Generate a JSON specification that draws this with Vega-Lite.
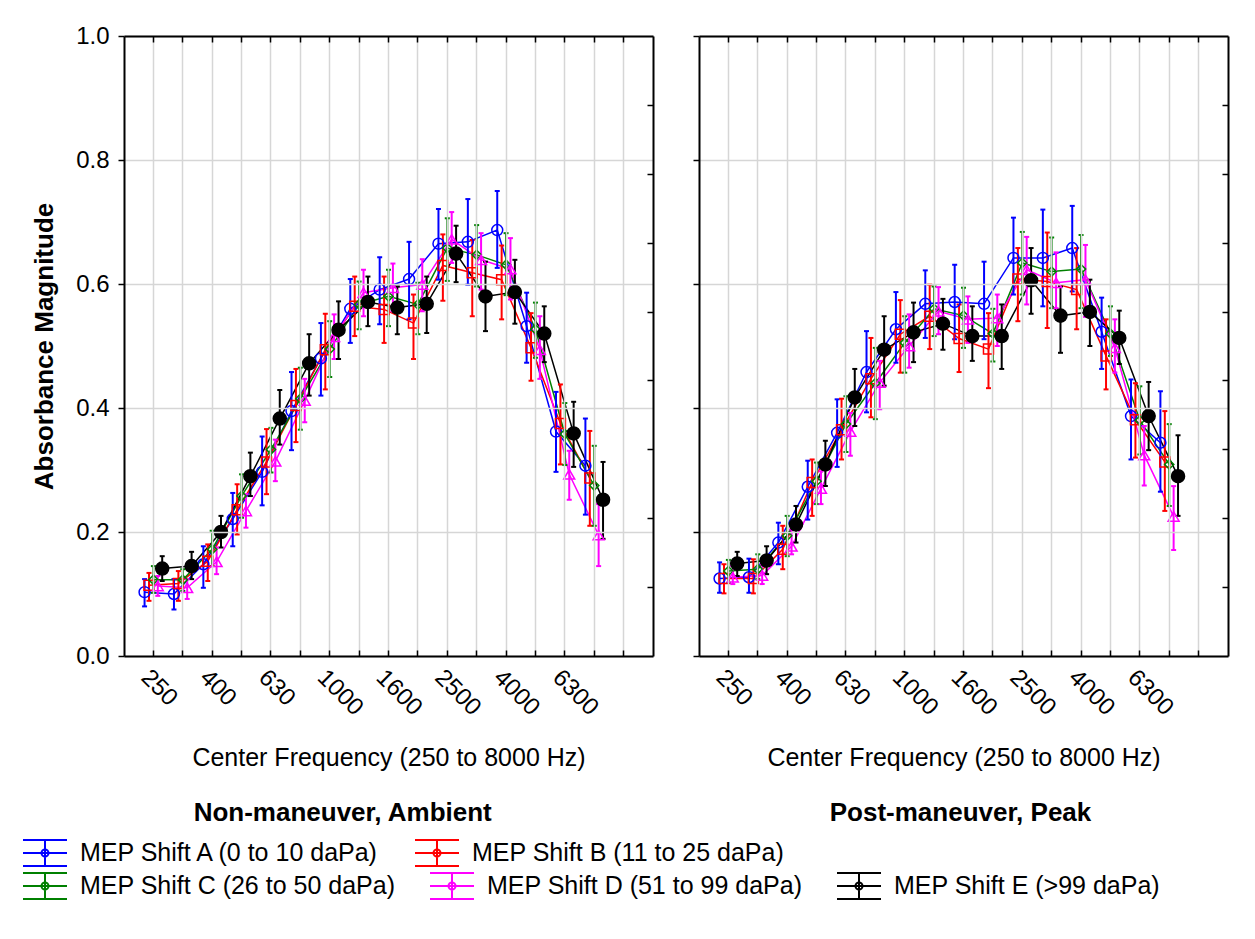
{
  "$schema": "https://vega.github.io/schema/vega-lite/v6.json",
  "background": "white",
  "padding": {"left": 22, "top": 24, "right": 5, "bottom": 5},
  "data": {"values": [
    {"panel":"Ambient","freq":250,"shift":"A","mean":0.103,"lo":0.080,"hi":0.124},
    {"panel":"Ambient","freq":315,"shift":"A","mean":0.100,"lo":0.075,"hi":0.124},
    {"panel":"Ambient","freq":400,"shift":"A","mean":0.148,"lo":0.110,"hi":0.177},
    {"panel":"Ambient","freq":500,"shift":"A","mean":0.221,"lo":0.177,"hi":0.263},
    {"panel":"Ambient","freq":630,"shift":"A","mean":0.297,"lo":0.243,"hi":0.354},
    {"panel":"Ambient","freq":800,"shift":"A","mean":0.395,"lo":0.332,"hi":0.458},
    {"panel":"Ambient","freq":1000,"shift":"A","mean":0.480,"lo":0.420,"hi":0.537},
    {"panel":"Ambient","freq":1250,"shift":"A","mean":0.560,"lo":0.505,"hi":0.608},
    {"panel":"Ambient","freq":1600,"shift":"A","mean":0.591,"lo":0.535,"hi":0.643},
    {"panel":"Ambient","freq":2000,"shift":"A","mean":0.608,"lo":0.543,"hi":0.668},
    {"panel":"Ambient","freq":2500,"shift":"A","mean":0.665,"lo":0.607,"hi":0.721},
    {"panel":"Ambient","freq":3150,"shift":"A","mean":0.668,"lo":0.599,"hi":0.737},
    {"panel":"Ambient","freq":4000,"shift":"A","mean":0.687,"lo":0.626,"hi":0.750},
    {"panel":"Ambient","freq":5000,"shift":"A","mean":0.532,"lo":0.473,"hi":0.586},
    {"panel":"Ambient","freq":6300,"shift":"A","mean":0.362,"lo":0.297,"hi":0.426},
    {"panel":"Ambient","freq":8000,"shift":"A","mean":0.307,"lo":0.228,"hi":0.383},
    {"panel":"Ambient","freq":250,"shift":"B","mean":0.114,"lo":0.089,"hi":0.134},
    {"panel":"Ambient","freq":315,"shift":"B","mean":0.117,"lo":0.089,"hi":0.137},
    {"panel":"Ambient","freq":400,"shift":"B","mean":0.153,"lo":0.121,"hi":0.180},
    {"panel":"Ambient","freq":500,"shift":"B","mean":0.236,"lo":0.196,"hi":0.277},
    {"panel":"Ambient","freq":630,"shift":"B","mean":0.313,"lo":0.261,"hi":0.366},
    {"panel":"Ambient","freq":800,"shift":"B","mean":0.404,"lo":0.345,"hi":0.463},
    {"panel":"Ambient","freq":1000,"shift":"B","mean":0.494,"lo":0.430,"hi":0.552},
    {"panel":"Ambient","freq":1250,"shift":"B","mean":0.564,"lo":0.516,"hi":0.612},
    {"panel":"Ambient","freq":1600,"shift":"B","mean":0.559,"lo":0.505,"hi":0.612},
    {"panel":"Ambient","freq":2000,"shift":"B","mean":0.537,"lo":0.479,"hi":0.583},
    {"panel":"Ambient","freq":2500,"shift":"B","mean":0.630,"lo":0.573,"hi":0.680},
    {"panel":"Ambient","freq":3150,"shift":"B","mean":0.618,"lo":0.548,"hi":0.671},
    {"panel":"Ambient","freq":4000,"shift":"B","mean":0.607,"lo":0.543,"hi":0.662},
    {"panel":"Ambient","freq":5000,"shift":"B","mean":0.497,"lo":0.444,"hi":0.553},
    {"panel":"Ambient","freq":6300,"shift":"B","mean":0.375,"lo":0.309,"hi":0.438},
    {"panel":"Ambient","freq":8000,"shift":"B","mean":0.287,"lo":0.210,"hi":0.363},
    {"panel":"Ambient","freq":250,"shift":"C","mean":0.123,"lo":0.102,"hi":0.145},
    {"panel":"Ambient","freq":315,"shift":"C","mean":0.123,"lo":0.105,"hi":0.140},
    {"panel":"Ambient","freq":400,"shift":"C","mean":0.172,"lo":0.145,"hi":0.202},
    {"panel":"Ambient","freq":500,"shift":"C","mean":0.258,"lo":0.223,"hi":0.293},
    {"panel":"Ambient","freq":630,"shift":"C","mean":0.333,"lo":0.296,"hi":0.368},
    {"panel":"Ambient","freq":800,"shift":"C","mean":0.415,"lo":0.365,"hi":0.465},
    {"panel":"Ambient","freq":1000,"shift":"C","mean":0.495,"lo":0.450,"hi":0.540},
    {"panel":"Ambient","freq":1250,"shift":"C","mean":0.567,"lo":0.527,"hi":0.604},
    {"panel":"Ambient","freq":1600,"shift":"C","mean":0.580,"lo":0.532,"hi":0.623},
    {"panel":"Ambient","freq":2000,"shift":"C","mean":0.567,"lo":0.519,"hi":0.602},
    {"panel":"Ambient","freq":2500,"shift":"C","mean":0.658,"lo":0.605,"hi":0.706},
    {"panel":"Ambient","freq":3150,"shift":"C","mean":0.647,"lo":0.596,"hi":0.695},
    {"panel":"Ambient","freq":4000,"shift":"C","mean":0.631,"lo":0.582,"hi":0.682},
    {"panel":"Ambient","freq":5000,"shift":"C","mean":0.527,"lo":0.481,"hi":0.570},
    {"panel":"Ambient","freq":6300,"shift":"C","mean":0.358,"lo":0.308,"hi":0.408},
    {"panel":"Ambient","freq":8000,"shift":"C","mean":0.275,"lo":0.210,"hi":0.339},
    {"panel":"Ambient","freq":250,"shift":"D","mean":0.113,"lo":0.097,"hi":0.129},
    {"panel":"Ambient","freq":315,"shift":"D","mean":0.110,"lo":0.092,"hi":0.124},
    {"panel":"Ambient","freq":400,"shift":"D","mean":0.152,"lo":0.132,"hi":0.175},
    {"panel":"Ambient","freq":500,"shift":"D","mean":0.234,"lo":0.207,"hi":0.261},
    {"panel":"Ambient","freq":630,"shift":"D","mean":0.314,"lo":0.282,"hi":0.349},
    {"panel":"Ambient","freq":800,"shift":"D","mean":0.412,"lo":0.377,"hi":0.447},
    {"panel":"Ambient","freq":1000,"shift":"D","mean":0.515,"lo":0.479,"hi":0.551},
    {"panel":"Ambient","freq":1250,"shift":"D","mean":0.586,"lo":0.548,"hi":0.623},
    {"panel":"Ambient","freq":1600,"shift":"D","mean":0.594,"lo":0.556,"hi":0.633},
    {"panel":"Ambient","freq":2000,"shift":"D","mean":0.599,"lo":0.556,"hi":0.640},
    {"panel":"Ambient","freq":2500,"shift":"D","mean":0.672,"lo":0.634,"hi":0.716},
    {"panel":"Ambient","freq":3150,"shift":"D","mean":0.639,"lo":0.591,"hi":0.682},
    {"panel":"Ambient","freq":4000,"shift":"D","mean":0.624,"lo":0.575,"hi":0.674},
    {"panel":"Ambient","freq":5000,"shift":"D","mean":0.494,"lo":0.447,"hi":0.548},
    {"panel":"Ambient","freq":6300,"shift":"D","mean":0.293,"lo":0.252,"hi":0.331},
    {"panel":"Ambient","freq":8000,"shift":"D","mean":0.195,"lo":0.145,"hi":0.245},
    {"panel":"Ambient","freq":250,"shift":"E","mean":0.141,"lo":0.121,"hi":0.161},
    {"panel":"Ambient","freq":315,"shift":"E","mean":0.145,"lo":0.124,"hi":0.168},
    {"panel":"Ambient","freq":400,"shift":"E","mean":0.200,"lo":0.175,"hi":0.226},
    {"panel":"Ambient","freq":500,"shift":"E","mean":0.290,"lo":0.258,"hi":0.328},
    {"panel":"Ambient","freq":630,"shift":"E","mean":0.383,"lo":0.341,"hi":0.429},
    {"panel":"Ambient","freq":800,"shift":"E","mean":0.472,"lo":0.420,"hi":0.519},
    {"panel":"Ambient","freq":1000,"shift":"E","mean":0.526,"lo":0.479,"hi":0.572},
    {"panel":"Ambient","freq":1250,"shift":"E","mean":0.571,"lo":0.532,"hi":0.612},
    {"panel":"Ambient","freq":1600,"shift":"E","mean":0.562,"lo":0.519,"hi":0.596},
    {"panel":"Ambient","freq":2000,"shift":"E","mean":0.568,"lo":0.521,"hi":0.612},
    {"panel":"Ambient","freq":2500,"shift":"E","mean":0.649,"lo":0.603,"hi":0.694},
    {"panel":"Ambient","freq":3150,"shift":"E","mean":0.580,"lo":0.524,"hi":0.636},
    {"panel":"Ambient","freq":4000,"shift":"E","mean":0.587,"lo":0.536,"hi":0.639},
    {"panel":"Ambient","freq":5000,"shift":"E","mean":0.520,"lo":0.474,"hi":0.564},
    {"panel":"Ambient","freq":6300,"shift":"E","mean":0.359,"lo":0.305,"hi":0.410},
    {"panel":"Ambient","freq":8000,"shift":"E","mean":0.252,"lo":0.189,"hi":0.313},
    {"panel":"Peak","freq":250,"shift":"A","mean":0.125,"lo":0.102,"hi":0.151},
    {"panel":"Peak","freq":315,"shift":"A","mean":0.127,"lo":0.102,"hi":0.157},
    {"panel":"Peak","freq":400,"shift":"A","mean":0.183,"lo":0.148,"hi":0.215},
    {"panel":"Peak","freq":500,"shift":"A","mean":0.273,"lo":0.220,"hi":0.315},
    {"panel":"Peak","freq":630,"shift":"A","mean":0.360,"lo":0.305,"hi":0.414},
    {"panel":"Peak","freq":800,"shift":"A","mean":0.458,"lo":0.393,"hi":0.524},
    {"panel":"Peak","freq":1000,"shift":"A","mean":0.527,"lo":0.473,"hi":0.587},
    {"panel":"Peak","freq":1250,"shift":"A","mean":0.568,"lo":0.513,"hi":0.622},
    {"panel":"Peak","freq":1600,"shift":"A","mean":0.571,"lo":0.511,"hi":0.631},
    {"panel":"Peak","freq":2000,"shift":"A","mean":0.568,"lo":0.511,"hi":0.636},
    {"panel":"Peak","freq":2500,"shift":"A","mean":0.642,"lo":0.583,"hi":0.707},
    {"panel":"Peak","freq":3150,"shift":"A","mean":0.642,"lo":0.564,"hi":0.720},
    {"panel":"Peak","freq":4000,"shift":"A","mean":0.658,"lo":0.588,"hi":0.726},
    {"panel":"Peak","freq":5000,"shift":"A","mean":0.523,"lo":0.463,"hi":0.578},
    {"panel":"Peak","freq":6300,"shift":"A","mean":0.387,"lo":0.317,"hi":0.446},
    {"panel":"Peak","freq":8000,"shift":"A","mean":0.344,"lo":0.265,"hi":0.427},
    {"panel":"Peak","freq":250,"shift":"B","mean":0.125,"lo":0.101,"hi":0.148},
    {"panel":"Peak","freq":315,"shift":"B","mean":0.125,"lo":0.101,"hi":0.156},
    {"panel":"Peak","freq":400,"shift":"B","mean":0.172,"lo":0.140,"hi":0.210},
    {"panel":"Peak","freq":500,"shift":"B","mean":0.280,"lo":0.226,"hi":0.317},
    {"panel":"Peak","freq":630,"shift":"B","mean":0.365,"lo":0.317,"hi":0.415},
    {"panel":"Peak","freq":800,"shift":"B","mean":0.447,"lo":0.385,"hi":0.513},
    {"panel":"Peak","freq":1000,"shift":"B","mean":0.519,"lo":0.457,"hi":0.574},
    {"panel":"Peak","freq":1250,"shift":"B","mean":0.548,"lo":0.495,"hi":0.599},
    {"panel":"Peak","freq":1600,"shift":"B","mean":0.512,"lo":0.458,"hi":0.567},
    {"panel":"Peak","freq":2000,"shift":"B","mean":0.495,"lo":0.432,"hi":0.553},
    {"panel":"Peak","freq":2500,"shift":"B","mean":0.608,"lo":0.540,"hi":0.658},
    {"panel":"Peak","freq":3150,"shift":"B","mean":0.604,"lo":0.529,"hi":0.683},
    {"panel":"Peak","freq":4000,"shift":"B","mean":0.591,"lo":0.527,"hi":0.658},
    {"panel":"Peak","freq":5000,"shift":"B","mean":0.484,"lo":0.430,"hi":0.543},
    {"panel":"Peak","freq":6300,"shift":"B","mean":0.381,"lo":0.320,"hi":0.440},
    {"panel":"Peak","freq":8000,"shift":"B","mean":0.313,"lo":0.234,"hi":0.395},
    {"panel":"Peak","freq":250,"shift":"C","mean":0.137,"lo":0.118,"hi":0.155},
    {"panel":"Peak","freq":315,"shift":"C","mean":0.140,"lo":0.124,"hi":0.164},
    {"panel":"Peak","freq":400,"shift":"C","mean":0.194,"lo":0.161,"hi":0.226},
    {"panel":"Peak","freq":500,"shift":"C","mean":0.282,"lo":0.245,"hi":0.312},
    {"panel":"Peak","freq":630,"shift":"C","mean":0.374,"lo":0.329,"hi":0.419},
    {"panel":"Peak","freq":800,"shift":"C","mean":0.440,"lo":0.382,"hi":0.497},
    {"panel":"Peak","freq":1000,"shift":"C","mean":0.505,"lo":0.457,"hi":0.548},
    {"panel":"Peak","freq":1250,"shift":"C","mean":0.560,"lo":0.516,"hi":0.596},
    {"panel":"Peak","freq":1600,"shift":"C","mean":0.549,"lo":0.497,"hi":0.594},
    {"panel":"Peak","freq":2000,"shift":"C","mean":0.520,"lo":0.475,"hi":0.560},
    {"panel":"Peak","freq":2500,"shift":"C","mean":0.634,"lo":0.583,"hi":0.684},
    {"panel":"Peak","freq":3150,"shift":"C","mean":0.620,"lo":0.561,"hi":0.675},
    {"panel":"Peak","freq":4000,"shift":"C","mean":0.624,"lo":0.561,"hi":0.679},
    {"panel":"Peak","freq":5000,"shift":"C","mean":0.520,"lo":0.484,"hi":0.564},
    {"panel":"Peak","freq":6300,"shift":"C","mean":0.380,"lo":0.325,"hi":0.435},
    {"panel":"Peak","freq":8000,"shift":"C","mean":0.309,"lo":0.242,"hi":0.374},
    {"panel":"Peak","freq":250,"shift":"D","mean":0.127,"lo":0.116,"hi":0.145},
    {"panel":"Peak","freq":315,"shift":"D","mean":0.130,"lo":0.116,"hi":0.148},
    {"panel":"Peak","freq":400,"shift":"D","mean":0.177,"lo":0.164,"hi":0.204},
    {"panel":"Peak","freq":500,"shift":"D","mean":0.270,"lo":0.245,"hi":0.298},
    {"panel":"Peak","freq":630,"shift":"D","mean":0.362,"lo":0.323,"hi":0.392},
    {"panel":"Peak","freq":800,"shift":"D","mean":0.441,"lo":0.398,"hi":0.476},
    {"panel":"Peak","freq":1000,"shift":"D","mean":0.500,"lo":0.465,"hi":0.551},
    {"panel":"Peak","freq":1250,"shift":"D","mean":0.556,"lo":0.519,"hi":0.595},
    {"panel":"Peak","freq":1600,"shift":"D","mean":0.543,"lo":0.505,"hi":0.580},
    {"panel":"Peak","freq":2000,"shift":"D","mean":0.545,"lo":0.500,"hi":0.583},
    {"panel":"Peak","freq":2500,"shift":"D","mean":0.623,"lo":0.567,"hi":0.676},
    {"panel":"Peak","freq":3150,"shift":"D","mean":0.602,"lo":0.561,"hi":0.651},
    {"panel":"Peak","freq":4000,"shift":"D","mean":0.607,"lo":0.547,"hi":0.663},
    {"panel":"Peak","freq":5000,"shift":"D","mean":0.497,"lo":0.457,"hi":0.543},
    {"panel":"Peak","freq":6300,"shift":"D","mean":0.324,"lo":0.275,"hi":0.371},
    {"panel":"Peak","freq":8000,"shift":"D","mean":0.225,"lo":0.171,"hi":0.274},
    {"panel":"Peak","freq":250,"shift":"E","mean":0.149,"lo":0.129,"hi":0.168},
    {"panel":"Peak","freq":315,"shift":"E","mean":0.154,"lo":0.132,"hi":0.177},
    {"panel":"Peak","freq":400,"shift":"E","mean":0.212,"lo":0.183,"hi":0.242},
    {"panel":"Peak","freq":500,"shift":"E","mean":0.309,"lo":0.274,"hi":0.347},
    {"panel":"Peak","freq":630,"shift":"E","mean":0.417,"lo":0.371,"hi":0.463},
    {"panel":"Peak","freq":800,"shift":"E","mean":0.494,"lo":0.436,"hi":0.548},
    {"panel":"Peak","freq":1000,"shift":"E","mean":0.522,"lo":0.474,"hi":0.570},
    {"panel":"Peak","freq":1250,"shift":"E","mean":0.536,"lo":0.494,"hi":0.576},
    {"panel":"Peak","freq":1600,"shift":"E","mean":0.516,"lo":0.476,"hi":0.564},
    {"panel":"Peak","freq":2000,"shift":"E","mean":0.516,"lo":0.463,"hi":0.567},
    {"panel":"Peak","freq":2500,"shift":"E","mean":0.606,"lo":0.552,"hi":0.658},
    {"panel":"Peak","freq":3150,"shift":"E","mean":0.549,"lo":0.489,"hi":0.596},
    {"panel":"Peak","freq":4000,"shift":"E","mean":0.555,"lo":0.500,"hi":0.607},
    {"panel":"Peak","freq":5000,"shift":"E","mean":0.513,"lo":0.471,"hi":0.557},
    {"panel":"Peak","freq":6300,"shift":"E","mean":0.387,"lo":0.332,"hi":0.442},
    {"panel":"Peak","freq":8000,"shift":"E","mean":0.290,"lo":0.226,"hi":0.356}
  ]},
  "spacing": 46,
  "bounds": "flush",
  "hconcat": [
    {
      "width": 529,
      "height": 620,
      "transform": [{"filter": {"field": "panel", "equal": "Ambient"}}],
      "title": {"text": "Non-maneuver, Ambient", "orient": "bottom", "anchor": "middle", "frame": "bounds", "offset": 29, "fontSize": 26, "fontWeight": "bold"},
      "encoding": {
        "xOffset": {"field": "shift", "type": "nominal", "scale": {"domain": ["A","B","C","D","E"], "paddingInner": 0, "paddingOuter": 0.833}}
      },
      "layer": [
        {
          "mark": {"type": "line", "strokeWidth": 1.5, "opacity": 1},
          "encoding": {
            "x": {"field": "freq", "type": "ordinal",
              "scale": {"type": "band", "domain": [250,315,400,500,630,800,1000,1250,1600,2000,2500,3150,4000,5000,6300,8000,10000], "paddingInner": 0, "paddingOuter": 0.5},
              "axis": {"orient": "bottom", "grid": true, "ticks": true, "tickSize": -6, "labelAngle": 45, "labelPadding": 15,
                "labelExpr": "indexof([250,400,630,1000,1600,2500,4000,6300], datum.value) >= 0 ? datum.label : ''",
                "title": "Center Frequency (250 to 8000 Hz)", "titleFontWeight": "normal", "titlePadding": 26, "zindex": 1}},
            "y": {"field": "mean", "type": "quantitative", "scale": {"domain": [0, 1], "nice": false, "zero": false},
              "axis": {"orient": "left", "grid": true, "values": [0, 0.2, 0.4, 0.6, 0.8, 1], "format": ".1f", "tickSize": 6, "labelPadding": 9,
                "title": "Absorbance Magnitude", "titleFontWeight": "bold", "titleFontSize": 26, "titlePadding": 18, "zindex": 1}},
            "color": {"field": "shift", "type": "nominal",
              "scale": {"domain": ["A","B","C","D","E"], "range": ["#0000ff","#ff0000","#008000","#ff00ff","#000000"]},
              "legend": {"values": ["A","B"], "orient": "none", "legendX": -102, "legendY": 794, "direction": "horizontal", "title": null,
                "labelExpr": "{'A':'MEP Shift A (0 to 10 daPa)','B':'MEP Shift B (11 to 25 daPa)','C':'MEP Shift C (26 to 50 daPa)','D':'MEP Shift D (51 to 99 daPa)','E':'MEP Shift E (>99 daPa)'}[datum.value]",
                "symbolType": "M-1,-0.59L1,-0.59M-1,0L1,0M-1,0.59L1,0.59M0,-0.59L0,0.59M-0.16,0A0.16,0.16,0,1,1,0.16,0A0.16,0.16,0,1,1,-0.16,0Z",
                "symbolSize": 1936, "symbolStrokeWidth": 2, "symbolFillColor": "transparent", "symbolOpacity": 1}}
          }
        },
        {
          "mark": {"type": "rule", "strokeWidth": 2, "opacity": 1},
          "encoding": {
            "x": {"field": "freq", "type": "ordinal",
              "scale": {"type": "band", "domain": [250,315,400,500,630,800,1000,1250,1600,2000,2500,3150,4000,5000,6300,8000,10000], "paddingInner": 0, "paddingOuter": 0.5},
              "axis": {"orient": "top", "grid": false, "labels": false, "tickSize": -6, "title": null, "zindex": 1}},
            "y": {"field": "lo", "type": "quantitative", "scale": {"domain": [0, 1], "nice": false, "zero": false},
              "axis": {"orient": "right", "grid": false, "labels": false, "tickSize": -6, "title": null,
                "values": [0.1111, 0.2222, 0.3333, 0.4444, 0.5556, 0.6667, 0.7778, 0.8889], "zindex": 1}},
            "y2": {"field": "hi"},
            "color": {"field": "shift", "type": "nominal",
              "scale": {"domain": ["A","B","C","D","E"], "range": ["#0000ff","#ff0000","#008000","#ff00ff","#000000"]},
              "legend": {"values": ["A","B"], "orient": "none", "legendX": -102, "legendY": 794, "direction": "horizontal", "title": null,
                "labelExpr": "{'A':'MEP Shift A (0 to 10 daPa)','B':'MEP Shift B (11 to 25 daPa)','C':'MEP Shift C (26 to 50 daPa)','D':'MEP Shift D (51 to 99 daPa)','E':'MEP Shift E (>99 daPa)'}[datum.value]",
                "symbolType": "M-1,-0.59L1,-0.59M-1,0L1,0M-1,0.59L1,0.59M0,-0.59L0,0.59M-0.16,0A0.16,0.16,0,1,1,0.16,0A0.16,0.16,0,1,1,-0.16,0Z",
                "symbolSize": 1936, "symbolStrokeWidth": 2, "symbolFillColor": "transparent", "symbolOpacity": 1}}
          }
        },
        {
          "mark": {"type": "tick", "size": 5, "thickness": 2, "opacity": 1},
          "encoding": {
            "x": {"field": "freq", "type": "ordinal", "axis": null,
              "scale": {"type": "band", "domain": [250,315,400,500,630,800,1000,1250,1600,2000,2500,3150,4000,5000,6300,8000,10000], "paddingInner": 0, "paddingOuter": 0.5}},
            "y": {"field": "lo", "type": "quantitative", "axis": null, "scale": {"domain": [0, 1], "nice": false, "zero": false}},
            "fill": {"field": "shift", "type": "nominal", "legend": null,
              "scale": {"domain": ["B","A","C","D","E"], "range": ["#ff0000","#0000ff","#008000","#ff00ff","#000000"]}}
          }
        },
        {
          "mark": {"type": "tick", "size": 5, "thickness": 2, "opacity": 1},
          "encoding": {
            "x": {"field": "freq", "type": "ordinal", "axis": null,
              "scale": {"type": "band", "domain": [250,315,400,500,630,800,1000,1250,1600,2000,2500,3150,4000,5000,6300,8000,10000], "paddingInner": 0, "paddingOuter": 0.5}},
            "y": {"field": "hi", "type": "quantitative", "axis": null, "scale": {"domain": [0, 1], "nice": false, "zero": false}},
            "fill": {"field": "shift", "type": "nominal", "legend": null,
              "scale": {"domain": ["B","A","C","D","E"], "range": ["#ff0000","#0000ff","#008000","#ff00ff","#000000"]}}
          }
        },
        {
          "mark": {"type": "point", "opacity": 1, "strokeWidth": 1.5},
          "encoding": {
            "x": {"field": "freq", "type": "ordinal", "axis": null,
              "scale": {"type": "band", "domain": [250,315,400,500,630,800,1000,1250,1600,2000,2500,3150,4000,5000,6300,8000,10000], "paddingInner": 0, "paddingOuter": 0.5}},
            "y": {"field": "mean", "type": "quantitative", "axis": null, "scale": {"domain": [0, 1], "nice": false, "zero": false}},
            "stroke": {"field": "shift", "type": "nominal",
              "scale": {"domain": ["E","D","C","B","A"], "range": ["#000000","#ff00ff","#008000","#ff0000","#0000ff"]},
              "legend": {"values": ["C","D","E"], "orient": "none", "legendX": -102, "legendY": 827, "direction": "horizontal", "title": null,
                "labelExpr": "{'A':'MEP Shift A (0 to 10 daPa)','B':'MEP Shift B (11 to 25 daPa)','C':'MEP Shift C (26 to 50 daPa)','D':'MEP Shift D (51 to 99 daPa)','E':'MEP Shift E (>99 daPa)'}[datum.value]",
                "symbolType": "M-1,-0.59L1,-0.59M-1,0L1,0M-1,0.59L1,0.59M0,-0.59L0,0.59M-0.16,0A0.16,0.16,0,1,1,0.16,0A0.16,0.16,0,1,1,-0.16,0Z",
                "symbolSize": 1936, "symbolStrokeWidth": 2, "symbolFillColor": "transparent", "symbolOpacity": 1}},
            "shape": {"condition": [{"test": "datum.shift === 'B'", "value": "square"}, {"test": "datum.shift === 'C'", "value": "diamond"}, {"test": "datum.shift === 'D'", "value": "triangle-up"}], "value": "circle"},
            "fill": {"condition": {"test": "datum.shift === 'E'", "value": "#000000"}, "value": "transparent"},
            "size": {"condition": [{"test": "datum.shift === 'B'", "value": 100}, {"test": "datum.shift === 'C'", "value": 85}, {"test": "datum.shift === 'E'", "value": 170}], "value": 120}
          }
        }
      ],
      "resolve": {"axis": {"x": "independent", "y": "independent"}}
    },
    {
      "width": 529,
      "height": 620,
      "transform": [{"filter": {"field": "panel", "equal": "Peak"}}],
      "title": {"text": "Post-maneuver, Peak", "orient": "bottom", "anchor": "middle", "frame": "bounds", "offset": 29, "fontSize": 26, "fontWeight": "bold"},
      "encoding": {
        "xOffset": {"field": "shift", "type": "nominal", "scale": {"domain": ["A","B","C","D","E"], "paddingInner": 0, "paddingOuter": 0.833}}
      },
      "layer": [
        {
          "mark": {"type": "line", "strokeWidth": 1.5, "opacity": 1},
          "encoding": {
            "x": {"field": "freq", "type": "ordinal",
              "scale": {"type": "band", "domain": [250,315,400,500,630,800,1000,1250,1600,2000,2500,3150,4000,5000,6300,8000,10000], "paddingInner": 0, "paddingOuter": 0.5},
              "axis": {"orient": "bottom", "grid": true, "ticks": true, "tickSize": -6, "labelAngle": 45, "labelPadding": 15,
                "labelExpr": "indexof([250,400,630,1000,1600,2500,4000,6300], datum.value) >= 0 ? datum.label : ''",
                "title": "Center Frequency (250 to 8000 Hz)", "titleFontWeight": "normal", "titlePadding": 26, "zindex": 1}},
            "y": {"field": "mean", "type": "quantitative", "scale": {"domain": [0, 1], "nice": false, "zero": false},
              "axis": {"orient": "left", "grid": true, "values": [0, 0.2, 0.4, 0.6, 0.8, 1], "labels": false, "tickSize": 6, "title": null, "zindex": 1}},
            "color": {"field": "shift", "type": "nominal",
              "scale": {"domain": ["A","B","C","D","E"], "range": ["#0000ff","#ff0000","#008000","#ff00ff","#000000"]},
              "legend": {"values": ["A","B"], "orient": "none", "legendX": -102, "legendY": 794, "direction": "horizontal", "title": null,
                "labelExpr": "{'A':'MEP Shift A (0 to 10 daPa)','B':'MEP Shift B (11 to 25 daPa)','C':'MEP Shift C (26 to 50 daPa)','D':'MEP Shift D (51 to 99 daPa)','E':'MEP Shift E (>99 daPa)'}[datum.value]",
                "symbolType": "M-1,-0.59L1,-0.59M-1,0L1,0M-1,0.59L1,0.59M0,-0.59L0,0.59M-0.16,0A0.16,0.16,0,1,1,0.16,0A0.16,0.16,0,1,1,-0.16,0Z",
                "symbolSize": 1936, "symbolStrokeWidth": 2, "symbolFillColor": "transparent", "symbolOpacity": 1}}
          }
        },
        {
          "mark": {"type": "rule", "strokeWidth": 2, "opacity": 1},
          "encoding": {
            "x": {"field": "freq", "type": "ordinal",
              "scale": {"type": "band", "domain": [250,315,400,500,630,800,1000,1250,1600,2000,2500,3150,4000,5000,6300,8000,10000], "paddingInner": 0, "paddingOuter": 0.5},
              "axis": {"orient": "top", "grid": false, "labels": false, "tickSize": -6, "title": null, "zindex": 1}},
            "y": {"field": "lo", "type": "quantitative", "scale": {"domain": [0, 1], "nice": false, "zero": false},
              "axis": {"orient": "right", "grid": false, "labels": false, "tickSize": -6, "title": null,
                "values": [0.1111, 0.2222, 0.3333, 0.4444, 0.5556, 0.6667, 0.7778, 0.8889], "zindex": 1}},
            "y2": {"field": "hi"},
            "color": {"field": "shift", "type": "nominal",
              "scale": {"domain": ["A","B","C","D","E"], "range": ["#0000ff","#ff0000","#008000","#ff00ff","#000000"]},
              "legend": {"values": ["A","B"], "orient": "none", "legendX": -102, "legendY": 794, "direction": "horizontal", "title": null,
                "labelExpr": "{'A':'MEP Shift A (0 to 10 daPa)','B':'MEP Shift B (11 to 25 daPa)','C':'MEP Shift C (26 to 50 daPa)','D':'MEP Shift D (51 to 99 daPa)','E':'MEP Shift E (>99 daPa)'}[datum.value]",
                "symbolType": "M-1,-0.59L1,-0.59M-1,0L1,0M-1,0.59L1,0.59M0,-0.59L0,0.59M-0.16,0A0.16,0.16,0,1,1,0.16,0A0.16,0.16,0,1,1,-0.16,0Z",
                "symbolSize": 1936, "symbolStrokeWidth": 2, "symbolFillColor": "transparent", "symbolOpacity": 1}}
          }
        },
        {
          "mark": {"type": "tick", "size": 5, "thickness": 2, "opacity": 1},
          "encoding": {
            "x": {"field": "freq", "type": "ordinal", "axis": null,
              "scale": {"type": "band", "domain": [250,315,400,500,630,800,1000,1250,1600,2000,2500,3150,4000,5000,6300,8000,10000], "paddingInner": 0, "paddingOuter": 0.5}},
            "y": {"field": "lo", "type": "quantitative", "axis": null, "scale": {"domain": [0, 1], "nice": false, "zero": false}},
            "fill": {"field": "shift", "type": "nominal", "legend": null,
              "scale": {"domain": ["B","A","C","D","E"], "range": ["#ff0000","#0000ff","#008000","#ff00ff","#000000"]}}
          }
        },
        {
          "mark": {"type": "tick", "size": 5, "thickness": 2, "opacity": 1},
          "encoding": {
            "x": {"field": "freq", "type": "ordinal", "axis": null,
              "scale": {"type": "band", "domain": [250,315,400,500,630,800,1000,1250,1600,2000,2500,3150,4000,5000,6300,8000,10000], "paddingInner": 0, "paddingOuter": 0.5}},
            "y": {"field": "hi", "type": "quantitative", "axis": null, "scale": {"domain": [0, 1], "nice": false, "zero": false}},
            "fill": {"field": "shift", "type": "nominal", "legend": null,
              "scale": {"domain": ["B","A","C","D","E"], "range": ["#ff0000","#0000ff","#008000","#ff00ff","#000000"]}}
          }
        },
        {
          "mark": {"type": "point", "opacity": 1, "strokeWidth": 1.5},
          "encoding": {
            "x": {"field": "freq", "type": "ordinal", "axis": null,
              "scale": {"type": "band", "domain": [250,315,400,500,630,800,1000,1250,1600,2000,2500,3150,4000,5000,6300,8000,10000], "paddingInner": 0, "paddingOuter": 0.5}},
            "y": {"field": "mean", "type": "quantitative", "axis": null, "scale": {"domain": [0, 1], "nice": false, "zero": false}},
            "stroke": {"field": "shift", "type": "nominal",
              "scale": {"domain": ["E","D","C","B","A"], "range": ["#000000","#ff00ff","#008000","#ff0000","#0000ff"]},
              "legend": {"values": ["C","D","E"], "orient": "none", "legendX": -102, "legendY": 827, "direction": "horizontal", "title": null,
                "labelExpr": "{'A':'MEP Shift A (0 to 10 daPa)','B':'MEP Shift B (11 to 25 daPa)','C':'MEP Shift C (26 to 50 daPa)','D':'MEP Shift D (51 to 99 daPa)','E':'MEP Shift E (>99 daPa)'}[datum.value]",
                "symbolType": "M-1,-0.59L1,-0.59M-1,0L1,0M-1,0.59L1,0.59M0,-0.59L0,0.59M-0.16,0A0.16,0.16,0,1,1,0.16,0A0.16,0.16,0,1,1,-0.16,0Z",
                "symbolSize": 1936, "symbolStrokeWidth": 2, "symbolFillColor": "transparent", "symbolOpacity": 1}},
            "shape": {"condition": [{"test": "datum.shift === 'B'", "value": "square"}, {"test": "datum.shift === 'C'", "value": "diamond"}, {"test": "datum.shift === 'D'", "value": "triangle-up"}], "value": "circle"},
            "fill": {"condition": {"test": "datum.shift === 'E'", "value": "#000000"}, "value": "transparent"},
            "size": {"condition": [{"test": "datum.shift === 'B'", "value": 100}, {"test": "datum.shift === 'C'", "value": 85}, {"test": "datum.shift === 'E'", "value": 170}], "value": 120}
          }
        }
      ],
      "resolve": {"axis": {"x": "independent", "y": "independent"}}
    }
  ],
  "config": {
    "font": "Liberation Sans",
    "view": {"stroke": null},
    "axis": {"labelColor": "black", "titleColor": "black", "domainColor": "black", "domainWidth": 2, "tickColor": "black", "tickWidth": 1.5,
      "gridColor": "#d6d6d6", "gridWidth": 1.5, "labelFontSize": 24, "titleFontSize": 25},
    "legend": {"labelFontSize": 25, "labelColor": "black", "labelLimit": 1000, "padding": 0, "symbolSize": 1936, "labelOffset": 12, "columnPadding": 30},
    "title": {"color": "black"}
  }
}
